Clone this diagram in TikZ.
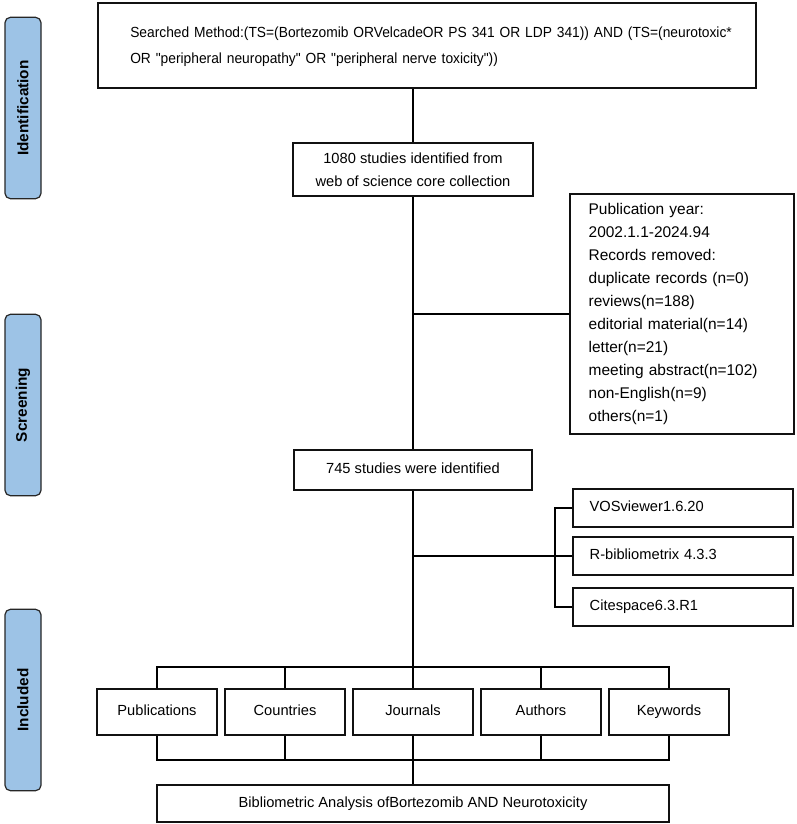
\documentclass[tikz,border=0pt]{standalone}
\usepackage{fontspec}
\setmainfont{Liberation Sans}
\newfontfamily\narrowfont[FakeStretch=0.94]{Liberation Sans}
\usetikzlibrary{positioning,shadows}
\definecolor{stagefill}{HTML}{9DC3E6}
\definecolor{stageedge}{HTML}{262626}
\definecolor{boxedge}{HTML}{111111}

\begin{document}
\begin{tikzpicture}[x=0.75pt, y=-0.75pt,
    box/.style={draw=boxedge, line width=1.5pt, fill=white, inner sep=0pt},
    stage/.style={draw=stageedge, line width=0.9pt, fill=stagefill, rounded corners=4pt,
        rotate=90, minimum width=136pt, minimum height=27pt, font=\fontsize{11.5}{13}\selectfont\bfseries},
    link/.style={draw=black, line width=0.8pt},
    txt/.style={font=\fontsize{11}{17}\selectfont},
    item/.style={box, txt, text height=8pt, text depth=2.5pt}]
    \useasboundingbox (0,0) rectangle (796,824);

    % Stage labels
    \node[stage] (ident) at (23,108) {Identification};
    \node[stage] (screen) at (23,405) {Screening};
    \node[stage] (incl) at (23,700) {Included};

    % Search query
    \node[box, minimum width=493pt, minimum height=64pt,
        drop shadow={shadow xshift=0.8pt, shadow yshift=-0.8pt, fill=black, opacity=1}] (search) at (427,45.5) {};
    \node[anchor=west, inner sep=0pt, align=left, text width=460pt,
        font=\fontsize{11}{19.5}\narrowfont] (query) at (130,47)
        {Searched Method:(TS=(Bortezomib ORVelcadeOR PS 341 OR LDP 341)) AND (TS=(neurotoxic*\\
         OR "peripheral neuropathy" OR "peripheral nerve toxicity"))};

    % Identified records
    \node[box, txt, minimum width=180pt, minimum height=40pt, align=center] (found) at (413,169.5)
        {1080 studies identified from\\ web of science core collection};

    % Records removed
    \node[box, anchor=north west, minimum width=168pt, minimum height=180pt,
        text width=140pt, align=left, font=\fontsize{11.6}{17.25}\selectfont] (excl) at (569,193)
        {Publication year:\\ 2002.1.1-2024.94\\ Records removed:\\ duplicate records (n=0)\\
         reviews(n=188)\\ editorial material(n=14)\\ letter(n=21)\\ meeting abstract(n=102)\\
         non-English(n=9)\\ others(n=1)};

    % Studies kept
    \node[item, minimum width=178pt, minimum height=30pt] (kept) at (413,470) {745 studies were identified};

    % Software
    \node[item, anchor=west, minimum width=165pt, minimum height=29pt, text width=140pt, align=left] (vos) at (572,508) {VOSviewer1.6.20};
    \node[item, anchor=west, minimum width=165pt, minimum height=29pt, text width=140pt, align=left] (rbib) at (572,556) {R-bibliometrix 4.3.3};
    \node[item, anchor=west, minimum width=165pt, minimum height=29pt, text width=140pt, align=left] (cite) at (572,607) {Citespace6.3.R1};
    \coordinate (bend) at (555,556);

    % Analysis items
    \foreach \x/\name/\label in {157/pub/Publications, 285/cty/Countries, 413/jour/Journals, 541/auth/Authors, 669/kw/Keywords} {
        \node[item, minimum width=90pt, minimum height=35pt] (\name) at (\x,712) {\label};
    }
    \coordinate (topbus) at (413,667);
    \coordinate (botbus) at (413,760);

    % Result
    \node[item, minimum width=384pt, minimum height=28pt] (final) at (413,803.5)
        {Bibliometric Analysis ofBortezomib AND Neurotoxicity};

    % Connectors
    \draw[link] (found.north |- search.south) -- (found.north);
    \draw[link] (found.south) -- (kept.north);
    \draw[link] (excl.west) -- (excl.west -| found.south);
    \draw[link] (kept.south) -- (jour.north);
    \draw[link] (rbib.west) -- (rbib.west -| kept.south);
    \draw[link] (vos.west) -| (bend) |- (cite.west);
    \draw[link] (pub.north) |- (topbus) -| (kw.north);
    \draw[link] (cty.north) -- (cty.north |- topbus);
    \draw[link] (auth.north) -- (auth.north |- topbus);
    \draw[link] (pub.south) |- (botbus) -| (kw.south);
    \draw[link] (cty.south) -- (cty.south |- botbus);
    \draw[link] (auth.south) -- (auth.south |- botbus);
    \draw[link] (jour.south) -- (final.north);
\end{tikzpicture}
\end{document}
